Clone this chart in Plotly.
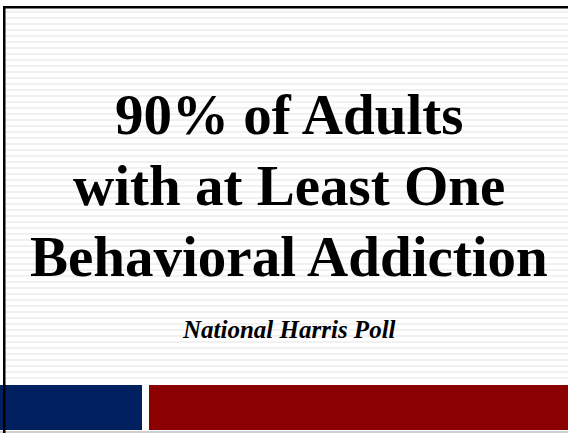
import plotly.graph_objects as go

# Slide content
title_lines = ["90% of Adults", "with at Least One", "Behavioral Addiction"]
title_y = [114, 185, 256]
subtitle = "National Harris Poll"
band_colors = ["#002060", "#8b0000"]
band_x = [[0, 142], [149, 568]]

W, H = 568, 433

fig = go.Figure()
shapes = []

# background stripes
y = 11
while y < 383:
    shapes.append(dict(type="rect", xref="x", yref="y", x0=4, x1=W, y0=y, y1=y + 2,
                       fillcolor="#f1f1f1", line=dict(width=0), layer="below"))
    y += 6

# bottom colored bands
for (x0, x1), c in zip(band_x, band_colors):
    shapes.append(dict(type="rect", xref="x", yref="y", x0=x0, x1=x1, y0=385, y1=430,
                       fillcolor=c, line=dict(width=0)))

# bottom grey line
shapes.append(dict(type="rect", xref="x", yref="y", x0=0, x1=W, y0=431, y1=433,
                   fillcolor="#d0d0d0", line=dict(width=0)))
# border top and left
shapes.append(dict(type="rect", xref="x", yref="y", x0=3, x1=W, y0=6, y1=8.5,
                   fillcolor="#000000", line=dict(width=0)))
shapes.append(dict(type="rect", xref="x", yref="y", x0=3, x1=5.5, y0=6, y1=433,
                   fillcolor="#000000", line=dict(width=0)))

annotations = []
for line, ty in zip(title_lines, title_y):
    annotations.append(dict(x=289, y=ty, xref="x", yref="y", text="<b>" + line + "</b>",
                            showarrow=False, xanchor="center", yanchor="middle",
                            font=dict(family="Liberation Serif", size=57, color="#000000")))
annotations.append(dict(x=289, y=329, xref="x", yref="y", text="<b><i>" + subtitle + "</i></b>",
                        showarrow=False, xanchor="center", yanchor="middle",
                        font=dict(family="Liberation Serif", size=25, color="#000000")))

fig.update_layout(
    width=W, height=H, margin=dict(l=0, r=0, t=0, b=0),
    paper_bgcolor="#ffffff", plot_bgcolor="#ffffff",
    xaxis=dict(range=[0, W], visible=False, fixedrange=True),
    yaxis=dict(range=[H, 0], visible=False, fixedrange=True),
    shapes=shapes, annotations=annotations, showlegend=False,
)
fig.write_html("out.html", config={"displayModeBar": False},
               post_script="document.body.style.margin='0';document.body.style.overflow='hidden';")
